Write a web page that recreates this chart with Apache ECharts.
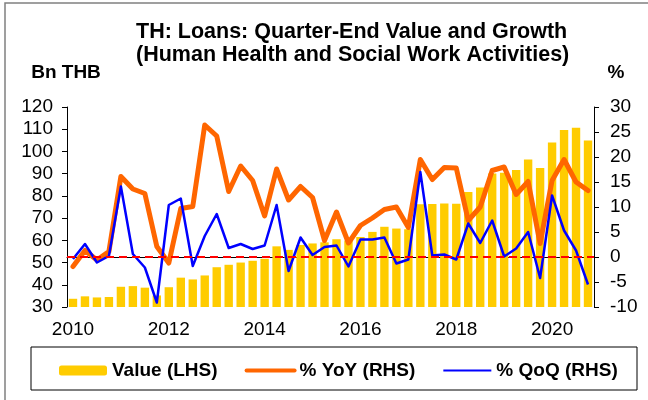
<!DOCTYPE html>
<html>
<head>
<meta charset="utf-8">
<script src="https://cdn.jsdelivr.net/npm/echarts@6/dist/echarts.min.js"></script>
<style>
  html, body { margin: 0; padding: 0; background: #fff; }
  #chart { width: 648px; height: 400px; }
</style>
</head>
<body>
<div id="chart"></div>
<script>
// 季度标签 2010Q1 - 2020Q4
const quarters = []
for (let y = 2010; y <= 2020; y++) {
  for (let q = 1; q <= 4; q++) quarters.push(y + 'Q' + q)
}

// 贷款余额 (Bn THB, 左轴)
const valueLhs = [
  33.7, 34.8, 34.3, 34.5,
  39.1, 39.4, 38.7, 35.2,
  38.9, 43.2, 42.4, 44.2,
  47.9, 49.0, 50.0, 50.8,
  51.7, 57.3, 55.7, 57.9,
  58.6, 59.1, 60.5, 59.9,
  61.5, 63.8, 66.1, 65.3,
  65.0, 76.2, 76.3, 76.6,
  76.5, 81.7, 83.8, 90.1,
  90.4, 91.7, 96.4, 92.5,
  104.0, 109.6, 110.7, 104.9
]

// 同比 % (右轴)
const yoyRhs = [
  -1.9, 1.3, -0.6, 1.1,
  16.1, 13.6, 12.7, 2.1,
  -1.2, 9.7, 10.1, 26.4,
  24.2, 13.1, 18.2, 15.3,
  8.2, 17.6, 11.4, 14.1,
  11.9, 3.3, 9.0, 2.8,
  6.3, 7.8, 9.5, 10.0,
  5.9, 19.5, 15.5, 17.9,
  17.8, 7.3, 10.0, 17.3,
  18.0, 12.5, 15.1, 2.7,
  15.3, 19.5, 15.0, 13.3
]

// 环比 % (右轴)
const qoqRhs = [
  -0.4, 2.6, -1.1, 0.2,
  14.1, 0.6, -2.1, -9.1,
  10.4, 11.7, -1.8, 4.2,
  8.6, 1.8, 2.6, 1.6,
  2.3, 10.4, -2.8, 3.9,
  0.4, 2.0, 2.3, -1.9,
  3.5, 3.5, 3.9, -1.3,
  -0.5, 17.0, 0.3, 0.5,
  -0.5, 6.7, 2.8, 7.3,
  0.1, 1.7, 5.0, -4.2,
  12.3, 5.3, 1.3, -5.5
]

const FONT = 'Liberation Sans, Arial, sans-serif'
const axisText = { color: '#000', fontFamily: FONT, fontSize: 19 }

const chart = echarts.init(document.getElementById('chart'), null, { renderer: 'canvas' })

chart.setOption({
  animation: false,
  backgroundColor: '#fff',
  title: {
    text: 'TH: Loans: Quarter-End Value and Growth\n(Human Health and Social Work Activities)',
    left: 136,
    top: 21,
    padding: 0,
    textStyle: { fontFamily: FONT, fontSize: 21.5, fontWeight: 'bold', color: '#000', lineHeight: 23 }
  },
  grid: { left: 67, right: 54, top: 107, bottom: 93, containLabel: false, outerBoundsMode: 'none' },
  legend: {
    left: 54,
    top: 356,
    itemGap: 27,
    itemWidth: 48,
    itemHeight: 10,
    textStyle: { fontFamily: FONT, fontSize: 19, fontWeight: 'bold', color: '#000' },
    data: [
      { name: 'Value (LHS)' },
      { name: '% YoY (RHS)', itemStyle: { color: 'rgba(0,0,0,0)', borderWidth: 0 }, lineStyle: { width: 4 } },
      { name: '% QoQ (RHS)', itemStyle: { color: 'rgba(0,0,0,0)', borderWidth: 0 }, lineStyle: { width: 2 } }
    ]
  },
  xAxis: {
    type: 'category',
    data: quarters,
    boundaryGap: true,
    axisLine: { lineStyle: { color: '#000', width: 1 } },
    axisTick: { interval: 3, length: 5, lineStyle: { color: '#000' } },
    axisLabel: { ...axisText, interval: 7, margin: 13, formatter: v => v.slice(0, 4) },
    splitLine: { show: false }
  },
  yAxis: [
    {
      type: 'value',
      min: 30,
      max: 120,
      interval: 10,
      axisLine: { show: true, lineStyle: { color: '#000', width: 1 } },
      axisTick: { show: true, length: 5, lineStyle: { color: '#000' } },
      axisLabel: { ...axisText, margin: 14 },
      splitLine: { show: false }
    },
    {
      type: 'value',
      min: -10,
      max: 30,
      interval: 5,
      position: 'right',
      axisLine: { show: true, lineStyle: { color: '#000', width: 1 } },
      axisTick: { show: true, length: 5, lineStyle: { color: '#000' } },
      axisLabel: { ...axisText, margin: 16 },
      splitLine: { show: false }
    }
  ],
  series: [
    {
      name: 'Value (LHS)',
      type: 'bar',
      yAxisIndex: 0,
      data: valueLhs,
      barCategoryGap: '30%',
      itemStyle: { color: '#FFCC00' },
      z: 1
    },
    {
      name: '% YoY (RHS)',
      type: 'line',
      yAxisIndex: 1,
      data: yoyRhs,
      symbol: 'none',
      itemStyle: { color: '#FF6600' },
      lineStyle: { color: '#FF6600', width: 5, cap: 'round', join: 'round' },
      z: 3
    },
    {
      name: '% QoQ (RHS)',
      type: 'line',
      yAxisIndex: 1,
      data: qoqRhs,
      symbol: 'none',
      itemStyle: { color: '#0000FF' },
      lineStyle: { color: '#0000FF', width: 2.5, join: 'round' },
      z: 4,
      markLine: {
        silent: true,
        symbol: ['none', 'none'],
        label: { show: false },
        lineStyle: { color: '#FF0000', type: [8, 5], width: 2 },
        data: [{ yAxis: 0 }]
      }
    }
  ],
  graphic: [
    // 外框 (左、上)
    {
      type: 'polyline',
      shape: { points: [[5, 400], [5, 3], [648, 3]] },
      style: { stroke: '#808080', lineWidth: 1.5, fill: null },
      silent: true
    },
    // 图例边框
    {
      type: 'rect',
      shape: { x: 31, y: 347, width: 606, height: 43 },
      style: { stroke: '#000', lineWidth: 1, fill: null },
      silent: true,
      z: -1
    },
    {
      type: 'text',
      style: { text: 'Bn THB', x: 66, y: 73, textAlign: 'center', textVerticalAlign: 'middle', font: 'bold 19px ' + FONT, fill: '#000' }
    },
    {
      type: 'text',
      style: { text: '%', x: 616, y: 73, textAlign: 'center', textVerticalAlign: 'middle', font: 'bold 19px ' + FONT, fill: '#000' }
    }
  ]
})
</script>
</body>
</html>
